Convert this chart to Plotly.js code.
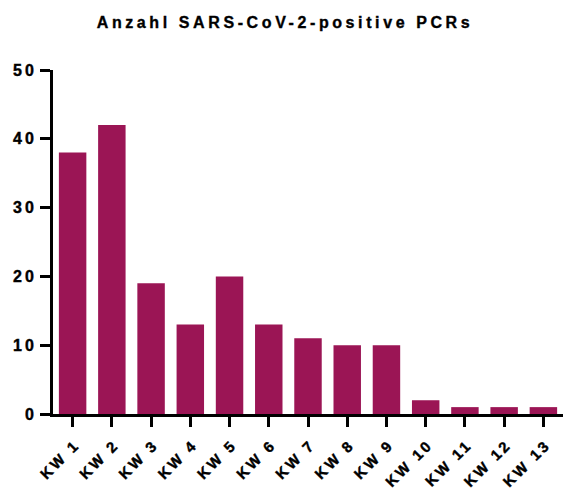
<!DOCTYPE html>
<html>
<head>
<meta charset="utf-8">
<script src="https://cdn.plot.ly/plotly-3.0.1.min.js"></script>
<style>
  html, body { margin: 0; padding: 0; background: #fff; }
  #chart { width: 570px; height: 493px; }
  #chart .gtitle { letter-spacing: 3.6px; stroke: #000; stroke-width: 0.35px; }
  #chart .xtick text { letter-spacing: 2.8px; stroke: #000; stroke-width: 0.4px; }
  #chart .ytick text { letter-spacing: 3px; stroke: #000; stroke-width: 0.4px; }
</style>
</head>
<body>
<div id="chart"></div>
<script>
const categories = ["KW 1","KW 2","KW 3","KW 4","KW 5","KW 6","KW 7","KW 8","KW 9","KW 10","KW 11","KW 12","KW 13"];
const positivePCRs = [38, 42, 19, 13, 20, 13, 11, 10, 10, 2, 1, 1, 1];
const yTicks = [0, 10, 20, 30, 40, 50];

const trace = {
  type: "bar",
  x: categories,
  y: positivePCRs,
  width: 0.7,
  marker: { color: "#9b1555", line: { width: 0 } },
  hoverinfo: "x+y"
};

const boldFont = "Liberation Sans, Arial, sans-serif";

const layout = {
  width: 570,
  height: 493,
  margin: { l: 53, r: 7, t: 70, b: 79, pad: 0 },
  paper_bgcolor: "#ffffff",
  plot_bgcolor: "#ffffff",
  showlegend: false,
  title: {
    text: "<b>Anzahl SARS-CoV-2-positive PCRs</b>",
    font: { family: boldFont, size: 16, color: "#000" },
    x: 0.5, xref: "container", xanchor: "center",
    y: 0.955, yref: "container", yanchor: "middle"
  },
  xaxis: {
    type: "category",
    range: [-0.5, 12.5],
    automargin: false,
    showline: true, linecolor: "#000", linewidth: 3,
    ticks: "outside", ticklen: 10, tickwidth: 3, tickcolor: "#000",
    tickangle: -45,
    ticklabelstandoff: 3,
    ticklabelshift: 3,
    tickfont: { family: boldFont, size: 15, color: "#000", weight: "bold" },
    showgrid: false, zeroline: false,
    fixedrange: true
  },
  yaxis: {
    range: [0, 50],
    automargin: false,
    tickmode: "array",
    tickvals: yTicks,
    ticktext: yTicks.map(String),
    showline: true, linecolor: "#000", linewidth: 3,
    ticks: "outside", ticklen: 10, tickwidth: 3, tickcolor: "#000",
    ticklabelstandoff: 0,
    tickfont: { family: boldFont, size: 16, color: "#000", weight: "bold" },
    showgrid: false, zeroline: false,
    fixedrange: true
  }
};

Plotly.newPlot("chart", [trace], layout, { displayModeBar: false, staticPlot: true });
</script>
</body>
</html>
